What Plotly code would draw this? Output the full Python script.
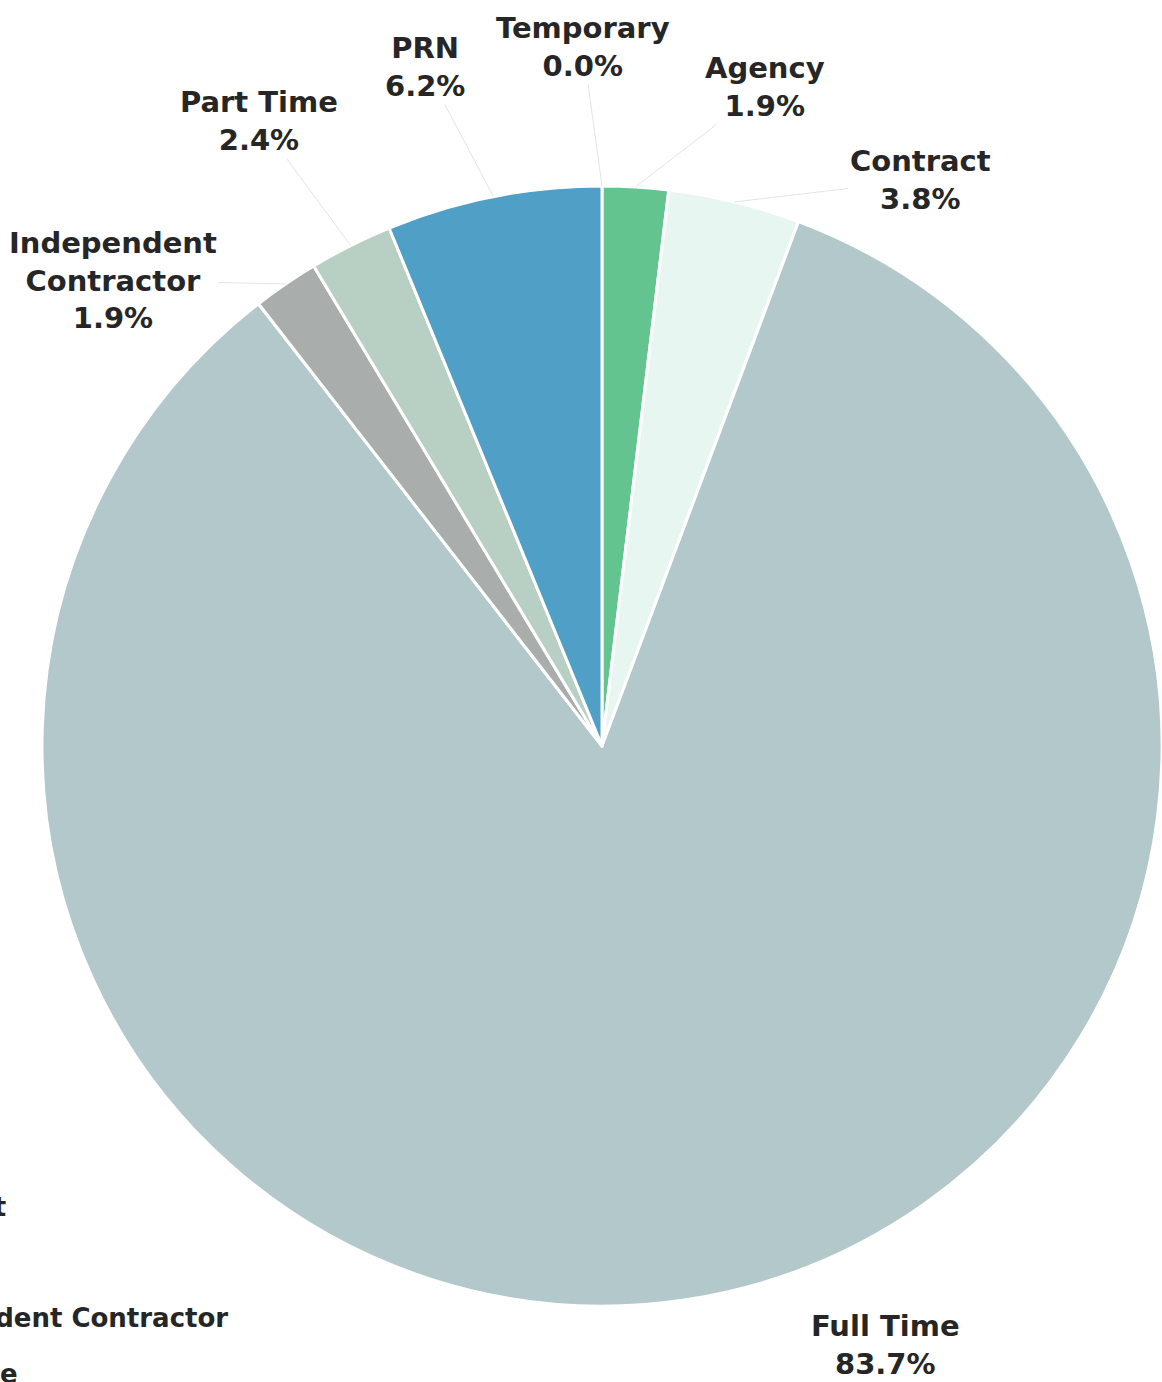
import math
import plotly.graph_objects as go

# ---- data ----
labels = ["Temporary", "Agency", "Contract", "Full Time",
          "Independent Contractor", "Part Time", "PRN"]
values = [0.0, 1.9, 3.8, 83.7, 1.9, 2.4, 6.2]
label_text = ["Temporary", "Agency", "Contract", "Full Time",
              "Independent<br>Contractor", "Part Time", "PRN"]
colors = ["#d9d9d9", "#63c48f", "#e8f6f2", "#b3c8ca",
          "#a9adab", "#b8cfc4", "#4f9fc6"]
legend_labels = ["Contract", "Full Time", "Independent Contractor", "Part Time"]

W, H = 1162, 1382
# pie geometry (pixels)
x0, x1 = 42, 1162
cy = 746
R = (x1 - x0) / 2
cx = (x0 + x1) / 2
y_top, y_bot = cy - R, cy + R

# label centres (pixels) – layout only
label_pos = {
    "Temporary": (583, 47),
    "Agency": (765, 87),
    "Contract": (920, 180),
    "Full Time": (886, 1345),
    "Independent Contractor": (113, 280),
    "Part Time": (259, 121),
    "PRN": (425, 67),
}

fig = go.Figure(go.Pie(
    labels=labels, values=values, sort=False, direction="clockwise",
    rotation=0, marker=dict(colors=colors, line=dict(color="white", width=3)),
    textinfo="none", hoverinfo="label+percent", showlegend=False,
    domain=dict(x=[x0 / W, x1 / W], y=[1 - y_bot / H, 1 - y_top / H]),
))

total = sum(values)
cum = 0.0
annos = []
font = dict(family="DejaVu Sans", size=29, color="#262626")
for lab, txt, v in zip(labels, label_text, values):
    mid = (cum + v / 2) / total * 2 * math.pi
    cum += v
    tipx = cx + R * math.sin(mid)
    tipy = cy - R * math.cos(mid)
    lx, ly = label_pos[lab]
    text = "<b>%s<br>%.1f%%</b>" % (txt, v)
    if lab != "Full Time":
        annos.append(dict(
            x=tipx / W, y=1 - tipy / H, xref="paper", yref="paper",
            ax=lx - tipx, ay=ly - tipy, axref="pixel", ayref="pixel",
            text=text, showarrow=True, arrowhead=0, arrowwidth=1,
            arrowcolor="#e4e4e4", standoff=0, font=font, align="center",
        ))
    else:
        annos.append(dict(
            x=lx / W, y=1 - ly / H, xref="paper", yref="paper",
            text=text, showarrow=False, font=font, align="center",
            xanchor="center", yanchor="middle",
        ))

# partially visible legend at bottom-left (cropped in the reference)
legend_right = [8, 2, 230, 20]
legend_y = [1207, 1262, 1318, 1374]
for lab, rx, ly in zip(legend_labels, legend_right, legend_y):
    annos.append(dict(
        x=rx / W, y=1 - ly / H, xref="paper", yref="paper",
        text="<b>%s</b>" % lab, showarrow=False, xanchor="right",
        yanchor="middle", font=dict(family="DejaVu Sans", size=26, color="#262626"),
    ))

fig.update_layout(
    width=W, height=H, margin=dict(l=0, r=0, t=0, b=0),
    paper_bgcolor="white", plot_bgcolor="white", annotations=annos,
)
fig.write_html("out.html")
